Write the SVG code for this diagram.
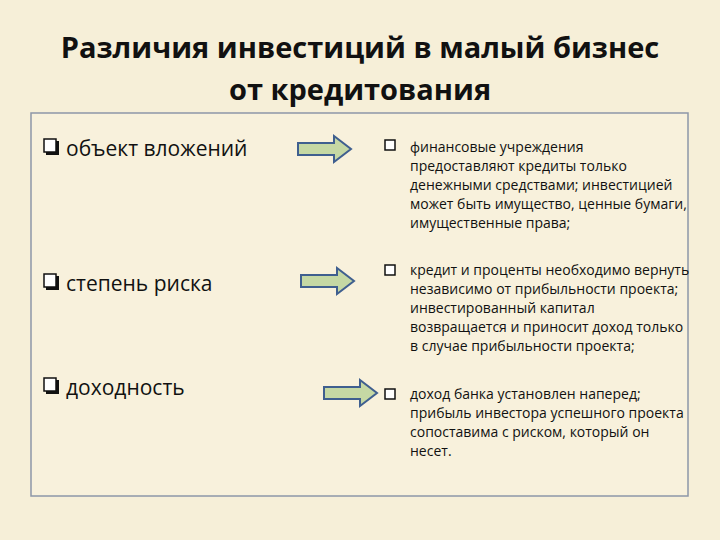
<svg xmlns="http://www.w3.org/2000/svg" width="720" height="540" viewBox="0 0 720 540">
<defs>
<style>
.t{font-family:"Open Sans","Liberation Sans",sans-serif;fill:#111}
.h{font-size:29px;font-weight:bold;text-anchor:middle}
.l{font-size:21px}
.r{font-size:14px}
.a{fill:#c5d8a4;stroke:#3f5f8f;stroke-width:2}
.b{fill:#fff;stroke:#111;stroke-width:1.5}
</style>
</defs>
<rect width="720" height="540" fill="#f6efd8"/>
<g id="title">
<text class="t h" x="360" y="58">Различия инвестиций в малый бизнес</text>
<text class="t h" x="360" y="100">от кредитования</text>
</g>
<rect id="frame" x="31" y="113" width="657" height="383" fill="#f8f1dc" stroke="#8d97a8" stroke-width="1.5"/>
<g id="left1"><rect x="46" y="141" width="13" height="14" fill="#111"/><rect class="b" x="44" y="139" width="12" height="13"/><text class="t l" x="66" y="156">объект вложений</text></g>
<g id="left2"><rect x="46" y="276" width="13" height="14" fill="#111"/><rect class="b" x="44" y="274" width="12" height="13"/><text class="t l" x="66" y="291">степень риска</text></g>
<g id="left3"><rect x="46" y="380" width="13" height="14" fill="#111"/><rect class="b" x="44" y="378" width="12" height="13"/><text class="t l" x="66" y="395">доходность</text></g>
<g id="connectors">
<path class="a" d="M298 143H334V136L351 149L334 162V155H298Z"/>
<path class="a" d="M301 275H337V268L354 281L337 294V287H301Z"/>
<path class="a" d="M324 387H360V380L377 393L360 406V399H324Z"/>
</g>
<g id="right1"><rect class="b" x="385" y="140" width="10" height="10"/>
<text class="t r" x="410" y="152">финансовые учреждения</text>
<text class="t r" x="410" y="171">предоставляют кредиты только</text>
<text class="t r" x="410" y="190">денежными средствами; инвестицией</text>
<text class="t r" x="410" y="209">может быть имущество, ценные бумаги,</text>
<text class="t r" x="410" y="228">имущественные права;</text></g>
<g id="right2"><rect class="b" x="385" y="265" width="10" height="10"/>
<text class="t r" x="410" y="275">кредит и проценты необходимо вернуть</text>
<text class="t r" x="410" y="294">независимо от прибыльности проекта;</text>
<text class="t r" x="410" y="313">инвестированный капитал</text>
<text class="t r" x="410" y="332">возвращается и приносит доход только</text>
<text class="t r" x="410" y="351">в случае прибыльности проекта;</text></g>
<g id="right3"><rect class="b" x="385" y="389" width="10" height="10"/>
<text class="t r" x="410" y="399">доход банка установлен наперед;</text>
<text class="t r" x="410" y="418">прибыль инвестора успешного проекта</text>
<text class="t r" x="410" y="437">сопоставима с риском, который он</text>
<text class="t r" x="410" y="456">несет.</text></g>
</svg>
